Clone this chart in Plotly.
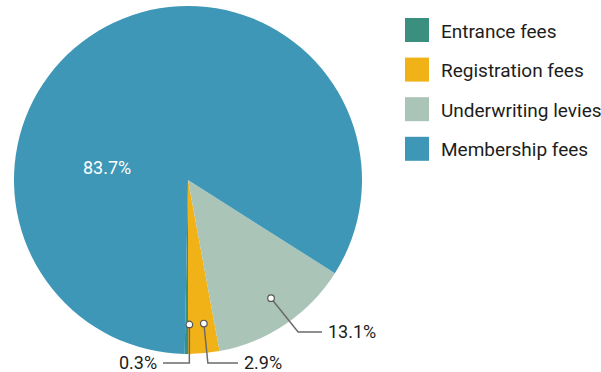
import math
import plotly.graph_objects as go

# Revenue composition
categories = ["Entrance fees", "Registration fees", "Underwriting levies", "Membership fees"]
shares = [0.3, 2.9, 13.1, 83.7]
colors = ["#3a8f7e", "#f0b216", "#aac4b8", "#3e97b6"]

W, H = 601, 372
CX, CY, R = 188, 180, 174          # pie centre and radius in pixels
START_ANGLE = 180                  # first slice starts at six o'clock
FONT = "Roboto, sans-serif"
TEXT_COLOR = "#1d1d1b"
LEADER_COLOR = "#6b6b6b"


def px(x):
    return x / W


def py(y):
    return 1 - y / H


fig = go.Figure(
    go.Pie(
        labels=categories,
        values=shares,
        sort=False,
        direction="counterclockwise",
        rotation=START_ANGLE,
        marker=dict(colors=colors, line=dict(width=0)),
        textinfo="none",
        hoverinfo="label+percent",
        showlegend=False,
        domain=dict(x=[px(CX - R), px(CX + R)], y=[py(CY + R), py(CY - R)]),
    )
)

# mid-angle (clockwise from 12 o'clock) of every slice
total = sum(shares)
mid_angles = []
cum = 0.0
for v in shares:
    mid_angles.append(START_ANGLE - (cum + v / 2) / total * 360)
    cum += v


def polar(angle_deg, r):
    a = math.radians(angle_deg)
    return CX + r * math.sin(a), CY - r * math.cos(a)


shapes = []
annotations = []

# outside labels with elbow leader lines
callouts = {
    0: dict(line_y=363, bend=0, end_x=163, side="right"),
    1: dict(line_y=363, bend=4, end_x=238, side="left"),
    2: dict(line_y=332, bend=None, end_x=322, side="left"),
}
for i, cfg in callouts.items():
    dx, dy = polar(mid_angles[i], 0.83 * R)
    ly = cfg["line_y"]
    bx = dx + (cfg["bend"] if cfg["bend"] is not None else (ly - dy) * 0.8)
    path = f"M {px(dx)},{py(dy)} L {px(bx)},{py(ly)} L {px(cfg['end_x'])},{py(ly)}"
    shapes.append(dict(type="path", xref="paper", yref="paper", path=path,
                       line=dict(color=LEADER_COLOR, width=1.5), layer="above"))
    shapes.append(dict(type="circle", xref="paper", yref="paper",
                       x0=px(dx - 3.3), x1=px(dx + 3.3), y0=py(dy + 3.3), y1=py(dy - 3.3),
                       fillcolor="white", line=dict(color="#555555", width=1.2), layer="above"))
    if cfg["side"] == "right":
        tx, anchor = cfg["end_x"] - 4, "right"
    else:
        tx, anchor = cfg["end_x"] + 4, "left"
    annotations.append(dict(x=px(tx), y=py(ly - 1), xref="paper", yref="paper",
                            text=f"{shares[i]:.1f}%", showarrow=False, xanchor=anchor,
                            yanchor="middle", font=dict(family=FONT, size=18, color=TEXT_COLOR)))

# label inside the large slice
annotations.append(dict(x=px(107), y=py(167), xref="paper", yref="paper",
                        text=f"{shares[3]:.1f}%", showarrow=False, xanchor="center",
                        yanchor="middle", font=dict(family=FONT, size=18, color="white")))

# legend: coloured squares with labels
for i, (name, col) in enumerate(zip(categories, colors)):
    yc = 30 + i * 39.6
    shapes.append(dict(type="rect", xref="paper", yref="paper",
                       x0=px(405), x1=px(429), y0=py(yc + 12), y1=py(yc - 12),
                       fillcolor=col, line=dict(width=0), layer="above"))
    annotations.append(dict(x=px(439), y=py(yc + 1), xref="paper", yref="paper",
                            text=name, showarrow=False, xanchor="left", yanchor="middle",
                            font=dict(family=FONT, size=19, color=TEXT_COLOR)))

fig.update_layout(
    width=W, height=H,
    margin=dict(l=0, r=0, t=0, b=0),
    paper_bgcolor="white", plot_bgcolor="white",
    shapes=shapes, annotations=annotations,
    showlegend=False,
)

fig.write_html("out.html")
